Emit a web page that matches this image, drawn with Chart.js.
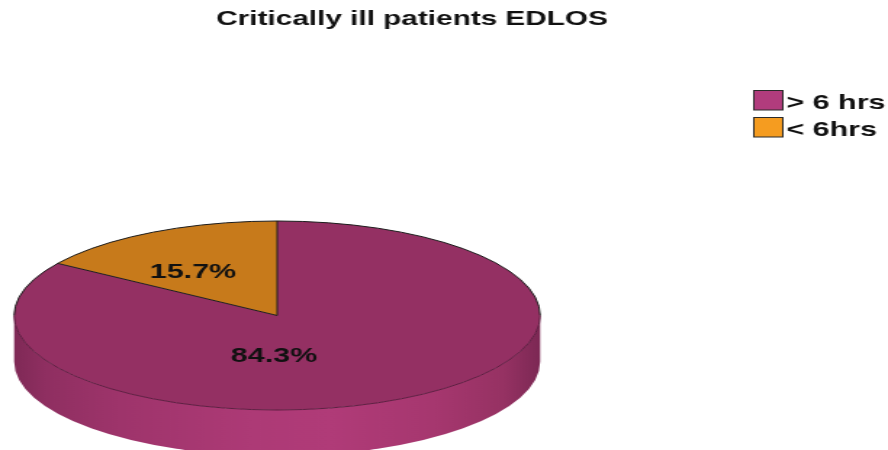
<!DOCTYPE html>
<html lang="en">
<head>
<meta charset="UTF-8">
<title>Critically ill patients EDLOS</title>
<script src="https://cdn.jsdelivr.net/npm/chart.js@4.4.1/dist/chart.umd.js"></script>
<style>
  html, body { margin: 0; padding: 0; background: #fff; }
  #chart { display: block; }
</style>
</head>
<body>
<!-- drawn at 612 wide, shown stretched to 888 -->
<canvas id="chart" width="612" height="450" style="width:888px;height:450px"></canvas>
<script>
const labels = ['> 6 hrs', '< 6hrs'];
const shares = [84.3, 15.7];
const topColors = ['#943063', '#c77a1b'];
const legendColors = ['#b13c7d', '#f59c20'];

const FONT = "'Liberation Sans', Arial, sans-serif";

// tilted disc: centre, radii and wall height in canvas px
const PIE = { cx: 191, cy: 315.5, rx: 181.3, ry: 94.5, depth: 46 };
// where each percentage sits, in units of the ellipse radii
const labelAnchors = [[-0.012, 0.43], [-0.32, -0.46]];

const sideStops = [
  [0, '#7f2956'], [0.06, '#8f2f61'], [0.2, '#9e346b'], [0.45, '#ad3a76'],
  [0.6, '#b03b78'], [0.8, '#a6376f'], [0.93, '#963263'], [1, '#7c2854']
];

const tiltedPie = {
  id: 'tiltedPie',
  beforeDatasetsDraw(chart) {
    const ctx = chart.ctx;
    const arc = chart.getDatasetMeta(0).data[0];
    const { x, y, outerRadius } = arc.getProps(['x', 'y', 'outerRadius'], true);

    // front wall of the disc
    ctx.save();
    const g = ctx.createLinearGradient(PIE.cx - PIE.rx, 0, PIE.cx + PIE.rx, 0);
    sideStops.forEach(([o, c]) => g.addColorStop(o, c));
    ctx.beginPath();
    ctx.ellipse(PIE.cx, PIE.cy, PIE.rx, PIE.ry, 0, 0, Math.PI);
    ctx.lineTo(PIE.cx - PIE.rx, PIE.cy + PIE.depth);
    ctx.ellipse(PIE.cx, PIE.cy + PIE.depth, PIE.rx, PIE.ry, 0, Math.PI, 0, true);
    ctx.closePath();
    ctx.fillStyle = g;
    ctx.fill();
    ctx.restore();

    // squash the library's arcs into the top face
    ctx.save();
    ctx.translate(PIE.cx, PIE.cy);
    ctx.scale(PIE.rx / outerRadius, PIE.ry / outerRadius);
    ctx.translate(-x, -y);
  },
  afterDatasetsDraw(chart) {
    const ctx = chart.ctx;
    ctx.restore();
    const arcs = chart.getDatasetMeta(0).data;

    // rim of the top face
    ctx.save();
    ctx.lineWidth = 1;
    ctx.strokeStyle = '#5e1d41';
    ctx.beginPath();
    ctx.ellipse(PIE.cx, PIE.cy, PIE.rx, PIE.ry, 0, 0, Math.PI);
    ctx.stroke();
    ctx.strokeStyle = '#1c1c1c';
    ctx.beginPath();
    ctx.ellipse(PIE.cx, PIE.cy, PIE.rx, PIE.ry, 0, Math.PI, 2 * Math.PI);
    ctx.stroke();

    // slice edges
    ctx.strokeStyle = '#1c1c1c';
    arcs.forEach(a => {
      const { startAngle } = a.getProps(['startAngle'], true);
      ctx.beginPath();
      ctx.moveTo(PIE.cx, PIE.cy);
      ctx.lineTo(PIE.cx + PIE.rx * Math.cos(startAngle), PIE.cy + PIE.ry * Math.sin(startAngle));
      ctx.stroke();
    });

    // percentages
    ctx.fillStyle = '#111';
    ctx.font = 'bold 21px ' + FONT;
    ctx.textAlign = 'center';
    ctx.textBaseline = 'middle';
    chart.data.datasets[0].data.forEach((v, i) => {
      const [ux, uy] = labelAnchors[i];
      ctx.fillText(v.toFixed(1) + '%', PIE.cx + ux * PIE.rx, PIE.cy + uy * PIE.ry);
    });
    ctx.restore();
  }
};

const sideLegend = {
  id: 'sideLegend',
  afterDraw(chart) {
    const ctx = chart.ctx;
    ctx.save();
    ctx.font = 'bold 21px ' + FONT;
    ctx.textBaseline = 'alphabetic';
    ctx.textAlign = 'left';
    chart.data.labels.forEach((t, i) => {
      const top = 90.5 + i * 27;
      ctx.fillStyle = legendColors[i];
      ctx.fillRect(519.5, top, 20, 19.5);
      ctx.strokeStyle = '#2a2a2a';
      ctx.lineWidth = 1;
      ctx.strokeRect(519.5, top, 20, 19.5);
      ctx.fillStyle = '#111';
      ctx.fillText(t, 542, top + 18.5);
    });
    ctx.restore();
  }
};

new Chart(document.getElementById('chart'), {
  type: 'pie',
  data: {
    labels: labels,
    datasets: [{
      data: shares,
      backgroundColor: topColors,
      borderWidth: 0,
      clip: false
    }]
  },
  options: {
    responsive: false,
    animation: false,
    events: [],
    layout: { padding: { left: 0, right: 44, top: 0, bottom: 0 } },
    plugins: {
      legend: { display: false },
      tooltip: { enabled: false },
      title: {
        display: true,
        text: 'Critically ill patients EDLOS',
        color: '#111',
        font: { family: FONT, size: 20.5, weight: 'bold' },
        padding: { top: 7, bottom: 10 }
      }
    }
  },
  plugins: [tiltedPie, sideLegend]
});
</script>
</body>
</html>
